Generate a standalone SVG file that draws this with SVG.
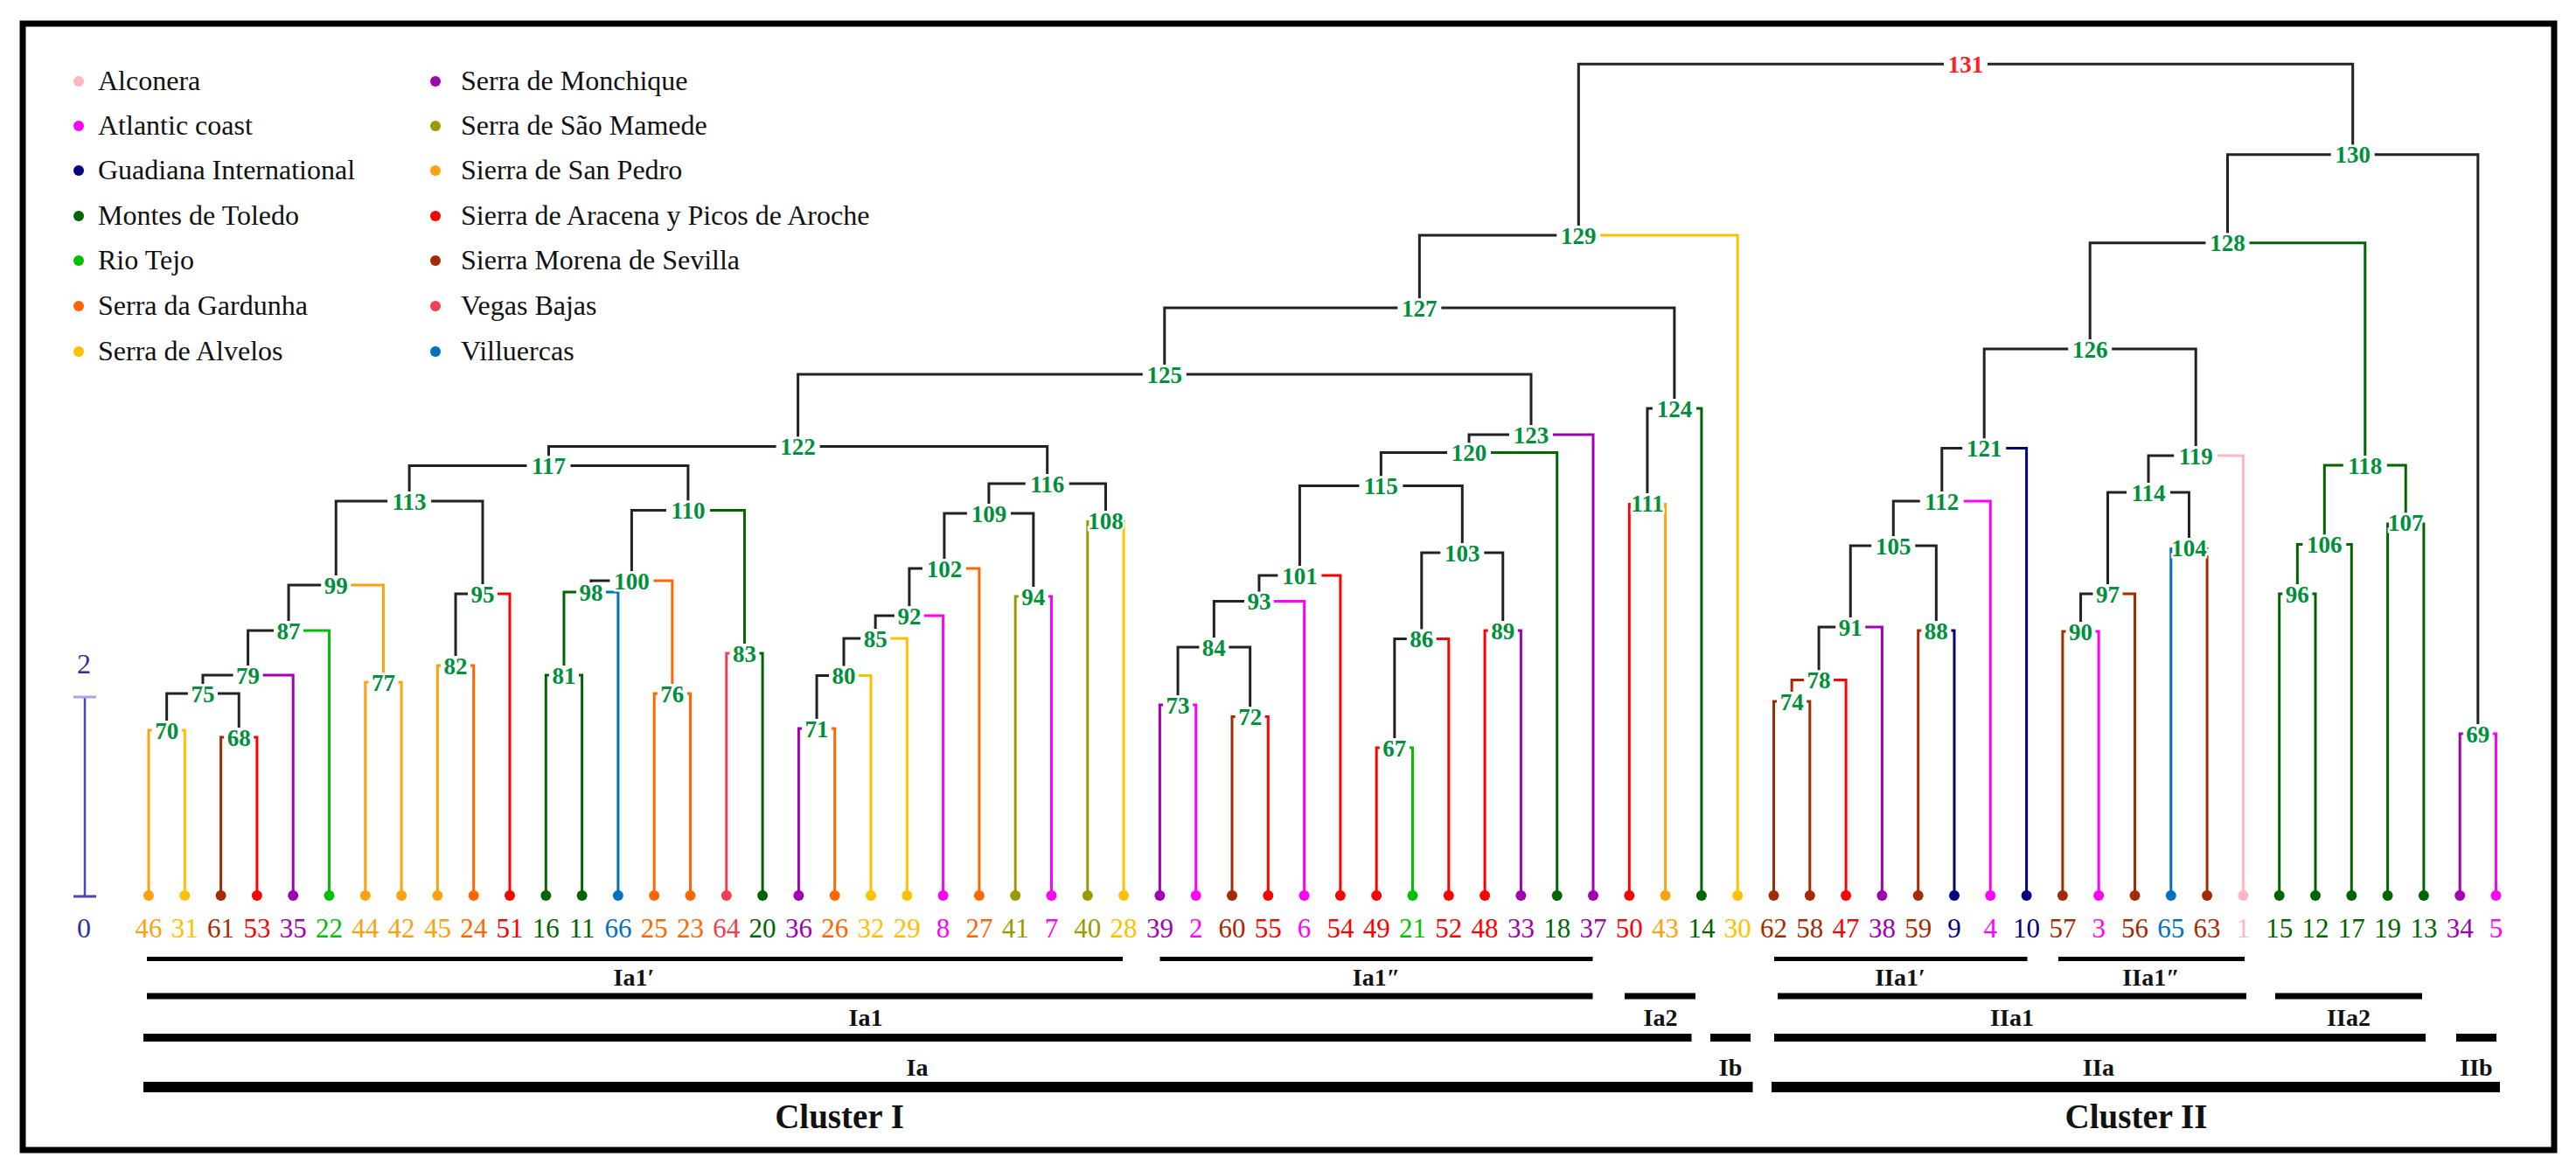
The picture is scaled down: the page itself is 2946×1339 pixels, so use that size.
<svg xmlns="http://www.w3.org/2000/svg" width="2946" height="1339" viewBox="0 0 2946 1339">
<style>
.AL{stroke:#ffb6c1;fill:#ffb6c1}
.AC{stroke:#ff00ff;fill:#ff00ff}
.GI{stroke:#000080;fill:#000080}
.MT{stroke:#006400;fill:#006400}
.RT{stroke:#00c000;fill:#00c000}
.SG{stroke:#ff6600;fill:#ff6600}
.SA{stroke:#ffc000;fill:#ffc000}
.SM{stroke:#a000b0;fill:#a000b0}
.SSM{stroke:#999900;fill:#999900}
.SSP{stroke:#ffa010;fill:#ffa010}
.SAR{stroke:#ff0000;fill:#ff0000}
.SMS{stroke:#a52a00;fill:#a52a00}
.VB{stroke:#f04050;fill:#f04050}
.VI{stroke:#0070c0;fill:#0070c0}
.k{stroke:#222;fill:#222}
#connectors path{fill:none;stroke-width:3}
.leaf circle,.leaf text,.legend circle{stroke:none}
.leaf text{font-family:"Liberation Serif",serif;font-size:31px;text-anchor:middle}
.node text{font-family:"Liberation Serif",serif;font-size:27px;font-weight:bold;fill:#00903c;text-anchor:middle;paint-order:stroke;stroke:#fff;stroke-width:5px}
.legend text{font-family:"Liberation Serif",serif;font-size:32px;fill:#111;stroke:none}
.bar{stroke:#000}
.blbl{font-family:"Liberation Serif",serif;font-size:28px;font-weight:bold;fill:#111;text-anchor:middle}
.clbl{font-family:"Liberation Serif",serif;font-size:39px;font-weight:bold;fill:#111;text-anchor:middle}
</style>
<rect x="0" y="0" width="2946" height="1339" fill="#fff"/>
<rect x="26" y="27" width="2895" height="1288" fill="none" stroke="#000" stroke-width="7"/>

<g id="legend" class="legend">
<circle class="AL" cx="90" cy="93" r="6"/><text x="112" y="103">Alconera</text>
<circle class="AC" cx="90" cy="144" r="6"/><text x="112" y="154">Atlantic coast</text>
<circle class="GI" cx="90" cy="195" r="6"/><text x="112" y="205">Guadiana International</text>
<circle class="MT" cx="90" cy="247" r="6"/><text x="112" y="257">Montes de Toledo</text>
<circle class="RT" cx="90" cy="298" r="6"/><text x="112" y="308">Rio Tejo</text>
<circle class="SG" cx="90" cy="350" r="6"/><text x="112" y="360">Serra da Gardunha</text>
<circle class="SA" cx="90" cy="402" r="6"/><text x="112" y="412">Serra de Alvelos</text>
<circle class="SM" cx="498" cy="93" r="6"/><text x="527" y="103">Serra de Monchique</text>
<circle class="SSM" cx="498" cy="144" r="6"/><text x="527" y="154">Serra de São Mamede</text>
<circle class="SSP" cx="498" cy="195" r="6"/><text x="527" y="205">Sierra de San Pedro</text>
<circle class="SAR" cx="498" cy="247" r="6"/><text x="527" y="257">Sierra de Aracena y Picos de Aroche</text>
<circle class="SMS" cx="498" cy="298" r="6"/><text x="527" y="308">Sierra Morena de Sevilla</text>
<circle class="VB" cx="498" cy="350" r="6"/><text x="527" y="360">Vegas Bajas</text>
<circle class="VI" cx="498" cy="402" r="6"/><text x="527" y="412">Villuercas</text>
</g>

<g id="scale">
<line x1="97" y1="797" x2="97" y2="1025" stroke="#4848b0" stroke-width="2.5"/>
<line x1="84" y1="797" x2="110" y2="797" stroke="#a8a8e0" stroke-width="3"/>
<line x1="84" y1="1025" x2="110" y2="1025" stroke="#4848b0" stroke-width="3"/>
<text x="96" y="770" font-family="Liberation Serif, serif" font-size="32" fill="#3030a0" text-anchor="middle">2</text>
<text x="96" y="1072" font-family="Liberation Serif, serif" font-size="32" fill="#3030a0" text-anchor="middle">0</text>
</g>

<g id="connectors">
<path class="SSP" d="M170 1024V835H173.6"/><path class="SA" d="M211.3 1024V835H207.7"/>
<path class="SMS" d="M252.6 1024V843H256.2"/><path class="SAR" d="M293.9 1024V843H290.3"/>
<path class="k" d="M190.65 824V793H214.9"/><path class="k" d="M273.25 832V793H249"/>
<path class="k" d="M231.95 782V772H266.6"/><path class="SM" d="M335.2 1024V772H300.6"/>
<path class="k" d="M283.6 761V721H313"/><path class="RT" d="M376.5 1024V721H347"/>
<path class="SSP" d="M417.8 1024V780H421.4"/><path class="SSP" d="M459.1 1024V780H455.5"/>
<path class="k" d="M330.05 710V669H367.2"/><path class="SSP" d="M438.45 769V669H401.3"/>
<path class="SSP" d="M500.4 1024V761H504"/><path class="SG" d="M541.7 1024V761H538.1"/>
<path class="k" d="M521.05 750V679H535"/><path class="SAR" d="M583 1024V679H569"/>
<path class="k" d="M384.25 658V573H443.1"/><path class="k" d="M552 668V573H493.1"/>
<path class="MT" d="M624.3 1024V772H627.9"/><path class="MT" d="M665.6 1024V772H662"/>
<path class="MT" d="M644.95 761V677H658.9"/><path class="VI" d="M706.9 1024V677H692.9"/>
<path class="SG" d="M748.2 1024V793H751.8"/><path class="SG" d="M789.5 1024V793H785.9"/>
<path class="k" d="M675.9 666V664H697.4"/><path class="SG" d="M768.85 782V664H747.4"/>
<path class="VB" d="M830.8 1024V747H834.4"/><path class="MT" d="M872.1 1024V747H868.5"/>
<path class="k" d="M722.4 653V583.4H761.9"/><path class="MT" d="M851.45 736V583.4H811.9"/>
<path class="k" d="M468.1 562V532.5H602.5"/><path class="k" d="M786.9 572.4V532.5H652.5"/>
<path class="SM" d="M913.4 1024V833H917"/><path class="SG" d="M954.7 1024V833H951.1"/>
<path class="k" d="M934.05 822V772.5H948"/><path class="SA" d="M996 1024V772.5H982"/>
<path class="k" d="M965 761.5V730H984.2"/><path class="SA" d="M1037.3 1024V730H1018.2"/>
<path class="k" d="M1001.15 719V704H1022.9"/><path class="AC" d="M1078.6 1024V704H1056.9"/>
<path class="k" d="M1039.9 693V650H1054.9"/><path class="SG" d="M1119.9 1024V650H1104.9"/>
<path class="SSM" d="M1161.2 1024V682H1164.8"/><path class="AC" d="M1202.5 1024V682H1198.9"/>
<path class="k" d="M1079.9 639V587H1105.9"/><path class="k" d="M1181.85 671V587H1155.9"/>
<path class="SSM" d="M1243.8 1024V595"/><path class="SA" d="M1285.1 1024V595"/>
<path class="k" d="M1130.9 576V553H1172.7"/><path class="k" d="M1264.45 584V553H1222.7"/>
<path class="k" d="M627.5 521.5V510.5H887.6"/><path class="k" d="M1197.7 542V510.5H937.6"/>
<path class="SM" d="M1326.4 1024V806H1330"/><path class="AC" d="M1367.7 1024V806H1364.1"/>
<path class="SMS" d="M1409 1024V819.5H1412.6"/><path class="SAR" d="M1450.3 1024V819.5H1446.7"/>
<path class="k" d="M1347.05 795V740H1371.4"/><path class="k" d="M1429.65 808.5V740H1405.4"/>
<path class="k" d="M1388.35 729V687.5H1423"/><path class="AC" d="M1491.6 1024V687.5H1457"/>
<path class="k" d="M1439.95 676.5V658H1461.4"/><path class="SAR" d="M1532.9 1024V658H1511.4"/>
<path class="SAR" d="M1574.2 1024V855H1577.8"/><path class="RT" d="M1615.5 1024V855H1611.9"/>
<path class="k" d="M1594.85 844V730.5H1608.8"/><path class="SAR" d="M1656.8 1024V730.5H1642.8"/>
<path class="SAR" d="M1698.1 1024V721H1701.7"/><path class="SM" d="M1739.4 1024V721H1735.8"/>
<path class="k" d="M1625.8 719.5V632H1647.3"/><path class="k" d="M1718.75 710V632H1697.3"/>
<path class="k" d="M1486.4 647V555.5H1554.4"/><path class="k" d="M1672.3 621V555.5H1604.4"/>
<path class="k" d="M1579.35 544.5V517.5H1655"/><path class="MT" d="M1780.7 1024V517.5H1705"/>
<path class="k" d="M1680 506.5V497H1726"/><path class="SM" d="M1822 1024V497H1776"/>
<path class="k" d="M912.6 499.5V428H1306.8"/><path class="k" d="M1751 486V428H1356.8"/>
<path class="SAR" d="M1863.3 1024V575"/><path class="SSP" d="M1904.6 1024V575"/>
<path class="k" d="M1883.95 564V467H1889.9"/><path class="MT" d="M1945.9 1024V467H1939.9"/>
<path class="k" d="M1331.8 417V352H1598.35"/><path class="k" d="M1914.9 456V352H1648.35"/>
<path class="k" d="M1623.35 341V269H1780.3"/><path class="SA" d="M1987.2 1024V269H1830.3"/>
<path class="SMS" d="M2028.5 1024V802H2032.1"/><path class="SMS" d="M2069.8 1024V802H2066.2"/>
<path class="SMS" d="M2049.15 791V777.5H2063.1"/><path class="SAR" d="M2111.1 1024V777.5H2097.1"/>
<path class="k" d="M2080.1 766.5V717H2099.25"/><path class="SM" d="M2152.4 1024V717H2133.25"/>
<path class="SMS" d="M2193.7 1024V721H2197.3"/><path class="GI" d="M2235 1024V721H2231.4"/>
<path class="k" d="M2116.25 706V624H2140.3"/><path class="k" d="M2214.35 710V624H2190.3"/>
<path class="k" d="M2165.3 613V573H2195.8"/><path class="AC" d="M2276.3 1024V573H2245.8"/>
<path class="k" d="M2220.8 562V512.5H2244.2"/><path class="GI" d="M2317.6 1024V512.5H2294.2"/>
<path class="SMS" d="M2358.9 1024V722H2362.5"/><path class="AC" d="M2400.2 1024V722H2396.6"/>
<path class="k" d="M2379.55 711V679H2393.5"/><path class="SMS" d="M2441.5 1024V679H2427.5"/>
<path class="VI" d="M2482.8 1024V626"/><path class="SMS" d="M2524.1 1024V626"/>
<path class="k" d="M2410.5 668V563H2432"/><path class="k" d="M2503.45 615V563H2482"/>
<path class="k" d="M2457 552V521H2486.2"/><path class="AL" d="M2565.4 1024V521H2536.2"/>
<path class="k" d="M2269.2 501.5V399H2365.2"/><path class="k" d="M2511.2 510V399H2415.2"/>
<path class="MT" d="M2606.7 1024V679H2610.3"/><path class="MT" d="M2648 1024V679H2644.4"/>
<path class="MT" d="M2627.35 668V622.5H2633.3"/><path class="MT" d="M2689.3 1024V622.5H2683.3"/>
<path class="MT" d="M2730.6 1024V597.5"/><path class="MT" d="M2771.9 1024V597.5"/>
<path class="MT" d="M2658.3 611.5V532H2679.8"/><path class="MT" d="M2751.25 586.5V532H2729.8"/>
<path class="k" d="M2390.2 388V277.7H2522.5"/><path class="MT" d="M2704.8 521V277.7H2572.5"/>
<path class="SM" d="M2813.2 1024V839H2816.8"/><path class="AC" d="M2854.5 1024V839H2850.9"/>
<path class="k" d="M2547.5 266.7V176.7H2665.7"/><path class="k" d="M2833.85 828V176.7H2715.7"/>
<path class="k" d="M1805.3 258V73.3H2223"/><path class="k" d="M2690.7 165.7V73.3H2273"/>
</g>

<g id="leaves">
<g id="leaf-46" class="leaf SSP"><circle cx="170" cy="1024" r="6"/><text x="170" y="1072">46</text></g>
<g id="leaf-31" class="leaf SA"><circle cx="211.3" cy="1024" r="6"/><text x="211.3" y="1072">31</text></g>
<g id="leaf-61" class="leaf SMS"><circle cx="252.6" cy="1024" r="6"/><text x="252.6" y="1072">61</text></g>
<g id="leaf-53" class="leaf SAR"><circle cx="293.9" cy="1024" r="6"/><text x="293.9" y="1072">53</text></g>
<g id="leaf-35" class="leaf SM"><circle cx="335.2" cy="1024" r="6"/><text x="335.2" y="1072">35</text></g>
<g id="leaf-22" class="leaf RT"><circle cx="376.5" cy="1024" r="6"/><text x="376.5" y="1072">22</text></g>
<g id="leaf-44" class="leaf SSP"><circle cx="417.8" cy="1024" r="6"/><text x="417.8" y="1072">44</text></g>
<g id="leaf-42" class="leaf SSP"><circle cx="459.1" cy="1024" r="6"/><text x="459.1" y="1072">42</text></g>
<g id="leaf-45" class="leaf SSP"><circle cx="500.4" cy="1024" r="6"/><text x="500.4" y="1072">45</text></g>
<g id="leaf-24" class="leaf SG"><circle cx="541.7" cy="1024" r="6"/><text x="541.7" y="1072">24</text></g>
<g id="leaf-51" class="leaf SAR"><circle cx="583" cy="1024" r="6"/><text x="583" y="1072">51</text></g>
<g id="leaf-16" class="leaf MT"><circle cx="624.3" cy="1024" r="6"/><text x="624.3" y="1072">16</text></g>
<g id="leaf-11" class="leaf MT"><circle cx="665.6" cy="1024" r="6"/><text x="665.6" y="1072">11</text></g>
<g id="leaf-66" class="leaf VI"><circle cx="706.9" cy="1024" r="6"/><text x="706.9" y="1072">66</text></g>
<g id="leaf-25" class="leaf SG"><circle cx="748.2" cy="1024" r="6"/><text x="748.2" y="1072">25</text></g>
<g id="leaf-23" class="leaf SG"><circle cx="789.5" cy="1024" r="6"/><text x="789.5" y="1072">23</text></g>
<g id="leaf-64" class="leaf VB"><circle cx="830.8" cy="1024" r="6"/><text x="830.8" y="1072">64</text></g>
<g id="leaf-20" class="leaf MT"><circle cx="872.1" cy="1024" r="6"/><text x="872.1" y="1072">20</text></g>
<g id="leaf-36" class="leaf SM"><circle cx="913.4" cy="1024" r="6"/><text x="913.4" y="1072">36</text></g>
<g id="leaf-26" class="leaf SG"><circle cx="954.7" cy="1024" r="6"/><text x="954.7" y="1072">26</text></g>
<g id="leaf-32" class="leaf SA"><circle cx="996" cy="1024" r="6"/><text x="996" y="1072">32</text></g>
<g id="leaf-29" class="leaf SA"><circle cx="1037.3" cy="1024" r="6"/><text x="1037.3" y="1072">29</text></g>
<g id="leaf-8" class="leaf AC"><circle cx="1078.6" cy="1024" r="6"/><text x="1078.6" y="1072">8</text></g>
<g id="leaf-27" class="leaf SG"><circle cx="1119.9" cy="1024" r="6"/><text x="1119.9" y="1072">27</text></g>
<g id="leaf-41" class="leaf SSM"><circle cx="1161.2" cy="1024" r="6"/><text x="1161.2" y="1072">41</text></g>
<g id="leaf-7" class="leaf AC"><circle cx="1202.5" cy="1024" r="6"/><text x="1202.5" y="1072">7</text></g>
<g id="leaf-40" class="leaf SSM"><circle cx="1243.8" cy="1024" r="6"/><text x="1243.8" y="1072">40</text></g>
<g id="leaf-28" class="leaf SA"><circle cx="1285.1" cy="1024" r="6"/><text x="1285.1" y="1072">28</text></g>
<g id="leaf-39" class="leaf SM"><circle cx="1326.4" cy="1024" r="6"/><text x="1326.4" y="1072">39</text></g>
<g id="leaf-2" class="leaf AC"><circle cx="1367.7" cy="1024" r="6"/><text x="1367.7" y="1072">2</text></g>
<g id="leaf-60" class="leaf SMS"><circle cx="1409" cy="1024" r="6"/><text x="1409" y="1072">60</text></g>
<g id="leaf-55" class="leaf SAR"><circle cx="1450.3" cy="1024" r="6"/><text x="1450.3" y="1072">55</text></g>
<g id="leaf-6" class="leaf AC"><circle cx="1491.6" cy="1024" r="6"/><text x="1491.6" y="1072">6</text></g>
<g id="leaf-54" class="leaf SAR"><circle cx="1532.9" cy="1024" r="6"/><text x="1532.9" y="1072">54</text></g>
<g id="leaf-49" class="leaf SAR"><circle cx="1574.2" cy="1024" r="6"/><text x="1574.2" y="1072">49</text></g>
<g id="leaf-21" class="leaf RT"><circle cx="1615.5" cy="1024" r="6"/><text x="1615.5" y="1072">21</text></g>
<g id="leaf-52" class="leaf SAR"><circle cx="1656.8" cy="1024" r="6"/><text x="1656.8" y="1072">52</text></g>
<g id="leaf-48" class="leaf SAR"><circle cx="1698.1" cy="1024" r="6"/><text x="1698.1" y="1072">48</text></g>
<g id="leaf-33" class="leaf SM"><circle cx="1739.4" cy="1024" r="6"/><text x="1739.4" y="1072">33</text></g>
<g id="leaf-18" class="leaf MT"><circle cx="1780.7" cy="1024" r="6"/><text x="1780.7" y="1072">18</text></g>
<g id="leaf-37" class="leaf SM"><circle cx="1822" cy="1024" r="6"/><text x="1822" y="1072">37</text></g>
<g id="leaf-50" class="leaf SAR"><circle cx="1863.3" cy="1024" r="6"/><text x="1863.3" y="1072">50</text></g>
<g id="leaf-43" class="leaf SSP"><circle cx="1904.6" cy="1024" r="6"/><text x="1904.6" y="1072">43</text></g>
<g id="leaf-14" class="leaf MT"><circle cx="1945.9" cy="1024" r="6"/><text x="1945.9" y="1072">14</text></g>
<g id="leaf-30" class="leaf SA"><circle cx="1987.2" cy="1024" r="6"/><text x="1987.2" y="1072">30</text></g>
<g id="leaf-62" class="leaf SMS"><circle cx="2028.5" cy="1024" r="6"/><text x="2028.5" y="1072">62</text></g>
<g id="leaf-58" class="leaf SMS"><circle cx="2069.8" cy="1024" r="6"/><text x="2069.8" y="1072">58</text></g>
<g id="leaf-47" class="leaf SAR"><circle cx="2111.1" cy="1024" r="6"/><text x="2111.1" y="1072">47</text></g>
<g id="leaf-38" class="leaf SM"><circle cx="2152.4" cy="1024" r="6"/><text x="2152.4" y="1072">38</text></g>
<g id="leaf-59" class="leaf SMS"><circle cx="2193.7" cy="1024" r="6"/><text x="2193.7" y="1072">59</text></g>
<g id="leaf-9" class="leaf GI"><circle cx="2235" cy="1024" r="6"/><text x="2235" y="1072">9</text></g>
<g id="leaf-4" class="leaf AC"><circle cx="2276.3" cy="1024" r="6"/><text x="2276.3" y="1072">4</text></g>
<g id="leaf-10" class="leaf GI"><circle cx="2317.6" cy="1024" r="6"/><text x="2317.6" y="1072">10</text></g>
<g id="leaf-57" class="leaf SMS"><circle cx="2358.9" cy="1024" r="6"/><text x="2358.9" y="1072">57</text></g>
<g id="leaf-3" class="leaf AC"><circle cx="2400.2" cy="1024" r="6"/><text x="2400.2" y="1072">3</text></g>
<g id="leaf-56" class="leaf SMS"><circle cx="2441.5" cy="1024" r="6"/><text x="2441.5" y="1072">56</text></g>
<g id="leaf-65" class="leaf VI"><circle cx="2482.8" cy="1024" r="6"/><text x="2482.8" y="1072">65</text></g>
<g id="leaf-63" class="leaf SMS"><circle cx="2524.1" cy="1024" r="6"/><text x="2524.1" y="1072">63</text></g>
<g id="leaf-1" class="leaf AL"><circle cx="2565.4" cy="1024" r="6"/><text x="2565.4" y="1072">1</text></g>
<g id="leaf-15" class="leaf MT"><circle cx="2606.7" cy="1024" r="6"/><text x="2606.7" y="1072">15</text></g>
<g id="leaf-12" class="leaf MT"><circle cx="2648" cy="1024" r="6"/><text x="2648" y="1072">12</text></g>
<g id="leaf-17" class="leaf MT"><circle cx="2689.3" cy="1024" r="6"/><text x="2689.3" y="1072">17</text></g>
<g id="leaf-19" class="leaf MT"><circle cx="2730.6" cy="1024" r="6"/><text x="2730.6" y="1072">19</text></g>
<g id="leaf-13" class="leaf MT"><circle cx="2771.9" cy="1024" r="6"/><text x="2771.9" y="1072">13</text></g>
<g id="leaf-34" class="leaf SM"><circle cx="2813.2" cy="1024" r="6"/><text x="2813.2" y="1072">34</text></g>
<g id="leaf-5" class="leaf AC"><circle cx="2854.5" cy="1024" r="6"/><text x="2854.5" y="1072">5</text></g>
</g>

<g id="nodes">
<g id="n70" class="node"><text x="190.65" y="844.5">70</text></g>
<g id="n68" class="node"><text x="273.25" y="852.5">68</text></g>
<g id="n75" class="node"><text x="231.95" y="802.5">75</text></g>
<g id="n79" class="node"><text x="283.6" y="781.5">79</text></g>
<g id="n87" class="node"><text x="330.05" y="730.5">87</text></g>
<g id="n77" class="node"><text x="438.45" y="789.5">77</text></g>
<g id="n99" class="node"><text x="384.25" y="678.5">99</text></g>
<g id="n82" class="node"><text x="521.05" y="770.5">82</text></g>
<g id="n95" class="node"><text x="552" y="688.5">95</text></g>
<g id="n113" class="node"><text x="468.1" y="582.5">113</text></g>
<g id="n81" class="node"><text x="644.95" y="781.5">81</text></g>
<g id="n98" class="node"><text x="675.9" y="686.5">98</text></g>
<g id="n76" class="node"><text x="768.85" y="802.5">76</text></g>
<g id="n100" class="node"><text x="722.4" y="673.5">100</text></g>
<g id="n83" class="node"><text x="851.45" y="756.5">83</text></g>
<g id="n110" class="node"><text x="786.9" y="592.9">110</text></g>
<g id="n117" class="node"><text x="627.5" y="542">117</text></g>
<g id="n71" class="node"><text x="934.05" y="842.5">71</text></g>
<g id="n80" class="node"><text x="965" y="782">80</text></g>
<g id="n85" class="node"><text x="1001.15" y="739.5">85</text></g>
<g id="n92" class="node"><text x="1039.9" y="713.5">92</text></g>
<g id="n102" class="node"><text x="1079.9" y="659.5">102</text></g>
<g id="n94" class="node"><text x="1181.85" y="691.5">94</text></g>
<g id="n109" class="node"><text x="1130.9" y="596.5">109</text></g>
<g id="n108" class="node"><text x="1264.45" y="604.5">108</text></g>
<g id="n116" class="node"><text x="1197.7" y="562.5">116</text></g>
<g id="n122" class="node"><text x="912.6" y="520">122</text></g>
<g id="n73" class="node"><text x="1347.05" y="815.5">73</text></g>
<g id="n72" class="node"><text x="1429.65" y="829">72</text></g>
<g id="n84" class="node"><text x="1388.35" y="749.5">84</text></g>
<g id="n93" class="node"><text x="1439.95" y="697">93</text></g>
<g id="n101" class="node"><text x="1486.4" y="667.5">101</text></g>
<g id="n67" class="node"><text x="1594.85" y="864.5">67</text></g>
<g id="n86" class="node"><text x="1625.8" y="740">86</text></g>
<g id="n89" class="node"><text x="1718.75" y="730.5">89</text></g>
<g id="n103" class="node"><text x="1672.3" y="641.5">103</text></g>
<g id="n115" class="node"><text x="1579.35" y="565">115</text></g>
<g id="n120" class="node"><text x="1680" y="527">120</text></g>
<g id="n123" class="node"><text x="1751" y="506.5">123</text></g>
<g id="n125" class="node"><text x="1331.8" y="437.5">125</text></g>
<g id="n111" class="node"><text x="1883.95" y="584.5">111</text></g>
<g id="n124" class="node"><text x="1914.9" y="476.5">124</text></g>
<g id="n127" class="node"><text x="1623.35" y="361.5">127</text></g>
<g id="n129" class="node"><text x="1805.3" y="278.5">129</text></g>
<g id="n74" class="node"><text x="2049.15" y="811.5">74</text></g>
<g id="n78" class="node"><text x="2080.1" y="787">78</text></g>
<g id="n91" class="node"><text x="2116.25" y="726.5">91</text></g>
<g id="n88" class="node"><text x="2214.35" y="730.5">88</text></g>
<g id="n105" class="node"><text x="2165.3" y="633.5">105</text></g>
<g id="n112" class="node"><text x="2220.8" y="582.5">112</text></g>
<g id="n121" class="node"><text x="2269.2" y="522">121</text></g>
<g id="n90" class="node"><text x="2379.55" y="731.5">90</text></g>
<g id="n97" class="node"><text x="2410.5" y="688.5">97</text></g>
<g id="n104" class="node"><text x="2503.45" y="635.5">104</text></g>
<g id="n114" class="node"><text x="2457" y="572.5">114</text></g>
<g id="n119" class="node"><text x="2511.2" y="530.5">119</text></g>
<g id="n126" class="node"><text x="2390.2" y="408.5">126</text></g>
<g id="n96" class="node"><text x="2627.35" y="688.5">96</text></g>
<g id="n106" class="node"><text x="2658.3" y="632">106</text></g>
<g id="n107" class="node"><text x="2751.25" y="607">107</text></g>
<g id="n118" class="node"><text x="2704.8" y="541.5">118</text></g>
<g id="n128" class="node"><text x="2547.5" y="287.2">128</text></g>
<g id="n69" class="node"><text x="2833.85" y="848.5">69</text></g>
<g id="n130" class="node"><text x="2690.7" y="186.2">130</text></g>
<g id="n131" class="node"><text x="2248" y="82.8" style="fill:#ff2020">131</text></g>
</g>

<g id="groups">
<line class="bar" x1="168" y1="1096.5" x2="1284" y2="1096.5" stroke-width="5"/>
<line class="bar" x1="1326.5" y1="1096.5" x2="1821.5" y2="1096.5" stroke-width="5"/>
<line class="bar" x1="2029" y1="1096.5" x2="2318.5" y2="1096.5" stroke-width="5"/>
<line class="bar" x1="2354" y1="1096.5" x2="2567" y2="1096.5" stroke-width="5"/>
<line class="bar" x1="168" y1="1139" x2="1821.5" y2="1139" stroke-width="7"/>
<line class="bar" x1="1858" y1="1139" x2="1939" y2="1139" stroke-width="7"/>
<line class="bar" x1="2033" y1="1139" x2="2569" y2="1139" stroke-width="7"/>
<line class="bar" x1="2602" y1="1139" x2="2770" y2="1139" stroke-width="7"/>
<line class="bar" x1="164" y1="1186.5" x2="1934.5" y2="1186.5" stroke-width="9"/>
<line class="bar" x1="1956" y1="1186.5" x2="2002" y2="1186.5" stroke-width="9"/>
<line class="bar" x1="2029" y1="1186.5" x2="2774" y2="1186.5" stroke-width="9"/>
<line class="bar" x1="2809" y1="1186.5" x2="2855" y2="1186.5" stroke-width="9"/>
<line class="bar" x1="164" y1="1243" x2="2004.5" y2="1243" stroke-width="12"/>
<line class="bar" x1="2026" y1="1243" x2="2859" y2="1243" stroke-width="12"/>
<text class="blbl" x="725" y="1127">Ia1′</text>
<text class="blbl" x="1574" y="1127">Ia1″</text>
<text class="blbl" x="2173" y="1127">IIa1′</text>
<text class="blbl" x="2460" y="1127">IIa1″</text>
<text class="blbl" x="990" y="1173">Ia1</text>
<text class="blbl" x="1899" y="1173">Ia2</text>
<text class="blbl" x="2301" y="1173">IIa1</text>
<text class="blbl" x="2686" y="1173">IIa2</text>
<text class="blbl" x="1049" y="1230">Ia</text>
<text class="blbl" x="1979" y="1230">Ib</text>
<text class="blbl" x="2400" y="1230">IIa</text>
<text class="blbl" x="2832" y="1230">IIb</text>
<text class="clbl" x="960" y="1290">Cluster I</text>
<text class="clbl" x="2443" y="1290">Cluster II</text>
</g>
</svg>
